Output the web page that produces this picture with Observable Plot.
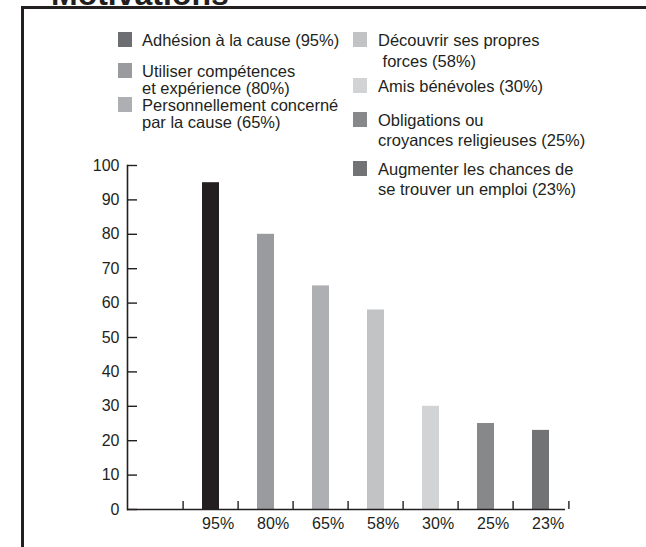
<!DOCTYPE html>
<html><head><meta charset="utf-8">
<script src="https://cdn.jsdelivr.net/npm/d3@7"></script>
<script src="https://cdn.jsdelivr.net/npm/@observablehq/plot@0.6"></script>
<style>
body{margin:0;background:#fff;}
#wrap{position:relative;width:646px;height:547px;overflow:hidden;font-family:"Liberation Sans",Arial,sans-serif;color:#231f20;background:#fff;}
#frame{position:absolute;left:21px;top:6px;width:640px;height:560px;border-top:3px solid #231f20;border-left:3px solid #231f20;}
#title{position:absolute;left:51px;top:-22px;font-size:32px;line-height:32px;font-weight:bold;white-space:nowrap;}
.sw{position:absolute;width:14px;height:15px;}
.lt{position:absolute;font-size:16.5px;white-space:pre;}
#chart svg{position:absolute;left:0;top:0;}
</style></head>
<body>
<div id="wrap"><div id="frame"></div><div id="title">Motivations</div><div id="chart"></div><div id="legend"></div></div>
<script>
const categories = ["95%","80%","65%","58%","30%","25%","23%"];
const values = [95,80,65,58,30,25,23];
const barColors = ["#231f20","#999b9e","#aeafb2","#c2c3c5","#d2d3d5","#87888a","#727375"];
const legendColors = ["#6d6e71","#999b9e","#aeafb2","#c2c3c5","#d2d3d5","#87888a","#727375"];
const legendLabels = [
  "Adhésion à la cause (95%)",
  "Utiliser compétences\net expérience (80%)",
  "Personnellement concerné\npar la cause (65%)",
  "Découvrir ses propres\n forces (58%)",
  "Amis bénévoles (30%)",
  "Obligations ou\ncroyances religieuses (25%)",
  "Augmenter les chances de\nse trouver un emploi (23%)"
];
const yTicks = [0,10,20,30,40,50,60,70,80,90,100];

// layout of the legend (column, swatch top, line height)
const legendLayout = [
  {col:0, top:32, lh:17},
  {col:0, top:63, lh:17},
  {col:0, top:97, lh:17},
  {col:1, top:32, lh:21},
  {col:1, top:78, lh:21},
  {col:1, top:112, lh:20},
  {col:1, top:161, lh:20}
];
const colX = [{sw:118, tx:142},{sw:353, tx:378}];

const W=646, H=547, mL=127, mR=81, mT=165, mB=38;
const plotW = W-mL-mR, plotH = H-mT-mB;
const step = 55.8, xStart = 179.8;
const inset = 19;
const data = categories.map((c,i)=>({cat:c, value:values[i], color:barColors[i]}));
const ink = "#231f20";

const chart = Plot.plot({
  width:W, height:H, marginLeft:mL, marginRight:mR, marginTop:mT, marginBottom:mB,
  style:{fontFamily:'"Liberation Sans",Arial,sans-serif', fontSize:"16px", color:ink, background:"transparent"},
  x:{type:"band", domain:categories, range:[xStart, xStart+step*categories.length], padding:0},
  y:{domain:[0,100]},
  color:{type:"identity"},
  marks:[
    Plot.barY(data,{x:"cat", y:"value", fill:"color", insetLeft:inset, insetRight:inset}),
    Plot.ruleY([0],{stroke:ink, strokeWidth:1.6}),
    Plot.frame({anchor:"left", stroke:ink, strokeWidth:1.6}),
    Plot.tickY(yTicks,{y:d=>d, insetRight:plotW-10, stroke:ink, strokeWidth:1.4}),
    Plot.tickX(categories,{x:d=>d, dx:-step/2, insetTop:plotH-8, stroke:ink, strokeWidth:1.4}),
    Plot.tickX(categories.slice(-1),{x:d=>d, dx:step/2, insetTop:plotH-8, stroke:ink, strokeWidth:1.4}),
    Plot.axisY({ticks:yTicks, tickSize:0, tickPadding:8, label:null, fontSize:16}),
    Plot.axisX({tickSize:0, tickPadding:8, label:null, fontSize:16, textAnchor:"start", dx:-(step/2-inset)})
  ]
});
document.getElementById("chart").appendChild(chart);

const lg = document.getElementById("legend");
legendLabels.forEach((lab,i)=>{
  const L = legendLayout[i], c = colX[L.col];
  const sw = document.createElement("div");
  sw.className="sw"; sw.style.left=c.sw+"px"; sw.style.top=L.top+"px"; sw.style.background=legendColors[i];
  lg.appendChild(sw);
  const t = document.createElement("div");
  t.className="lt"; t.style.left=c.tx+"px"; t.style.lineHeight=L.lh+"px";
  const baseOff = (L.lh - 1.149*16.5)/2 + 0.905*16.5;
  t.style.top=(L.top+13.5-baseOff)+"px";
  t.textContent = lab;
  lg.appendChild(t);
});
</script>
</body></html>
